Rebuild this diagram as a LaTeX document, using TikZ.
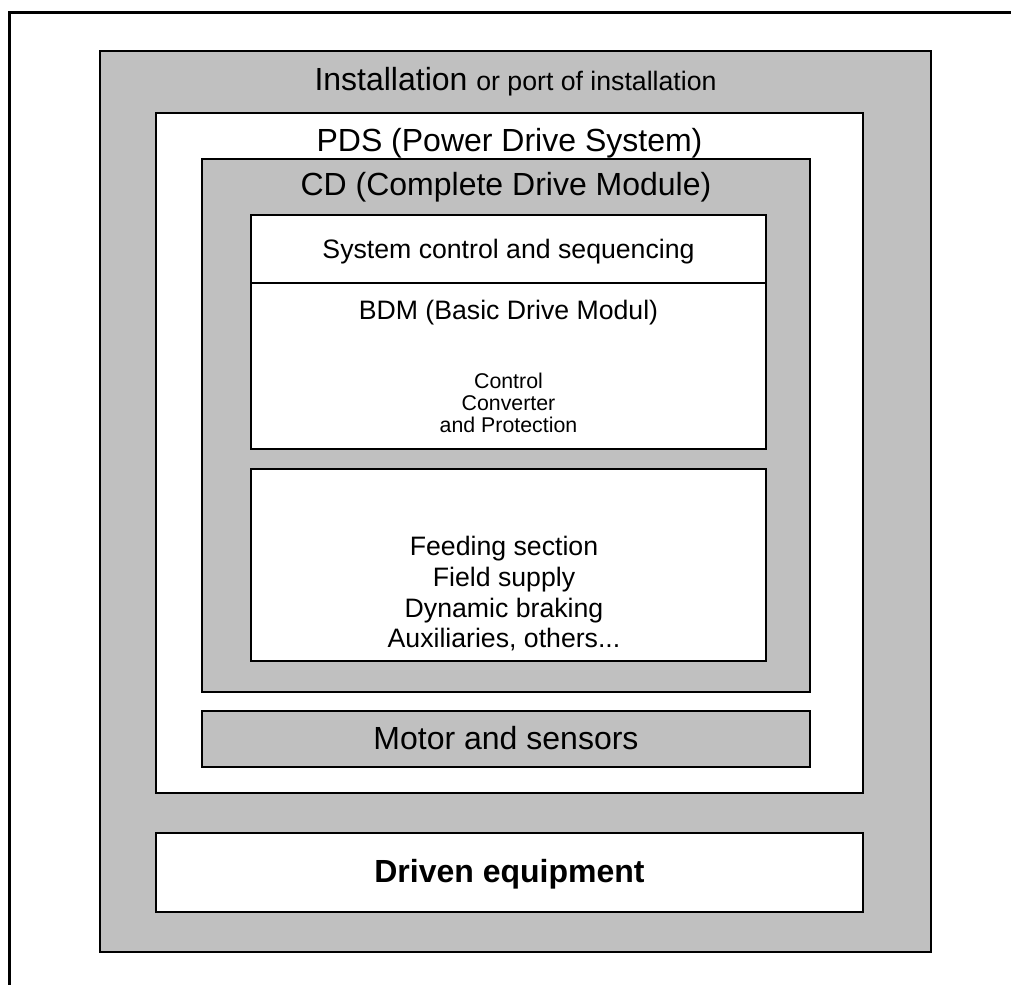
\documentclass[tikz,border=0pt]{standalone}
\usepackage{fontspec}
\setmainfont{Liberation Sans}
\usetikzlibrary{fit}
\definecolor{boxgray}{HTML}{C0C0C0}

\begin{document}
\begin{tikzpicture}[x=0.75pt,y=-0.75pt]
    \tikzstyle{frame}=[line width=2.25pt]
    \tikzstyle{graybox}=[draw,line width=1.5pt,fill=boxgray,inner sep=0pt]
    \tikzstyle{whitebox}=[draw,line width=1.5pt,fill=white,inner sep=0pt]
    \tikzstyle{big}=[font=\fontsize{24}{28}\selectfont,anchor=base,inner sep=0pt]
    \tikzstyle{mid}=[font=\fontsize{20}{23}\selectfont,anchor=base,inner sep=0pt]
    \tikzstyle{small}=[font=\fontsize{16}{19}\selectfont,anchor=base,inner sep=0pt]

    \useasboundingbox (0,0) rectangle (1011,985);

    % open frame round the page
    \coordinate (fb) at (9,987);
    \coordinate (ft) at (9,12);
    \coordinate (fr) at (1013,12);
    \draw[frame] (fb) -- (ft) -- (fr);

    % nested boxes
    \node[graybox, fit={(100,51) (931,952)}] (inst) {};
    \node[whitebox, fit={(156,113) (863,793)}] (pds) {};
    \node[graybox, fit={(202,159) (810,692)}] (cd) {};
    \node[whitebox, fit={(251,215) (766,283)}] (sys) {};
    \node[whitebox, fit={(251,283) (766,449)}] (bdm) {};
    \node[whitebox, fit={(251,469) (766,661)}] (feed) {};
    \node[graybox, fit={(202,711) (810,767)}] (motor) {};
    \node[whitebox, fit={(156,833) (863,912)}] (driven) {};

    % labels
    \node[big] (insttext) at (515.5,90) {Installation {\fontsize{20}{24}\selectfont or port of installation}};
    \node[big] (pdstext) at (509.5,151) {PDS (Power Drive System)};
    \node[big] (cdtext) at (506,195) {CD (Complete Drive Module)};
    \node[mid] (systext) at (508.5,258) {System control and sequencing};
    \node[mid] (bdmtext) at (508.5,319) {BDM (Basic Drive Modul)};
    \node[small] (ctl) at (508.5,388) {Control};
    \node[small] (conv) at (508.5,410) {Converter};
    \node[small] (prot) at (508.5,432) {and Protection};
    \node[mid] (feed1) at (504,555) {Feeding section};
    \node[mid] (feed2) at (504,586) {Field supply};
    \node[mid] (feed3) at (504,617) {Dynamic braking};
    \node[mid] (feed4) at (504,647) {Auxiliaries, others...};
    \node[big] (motortext) at (506,749) {Motor and sensors};
    \node[big,font=\fontsize{24}{28}\selectfont\bfseries] (driventext) at (509.5,882) {Driven equipment};
\end{tikzpicture}
\end{document}
